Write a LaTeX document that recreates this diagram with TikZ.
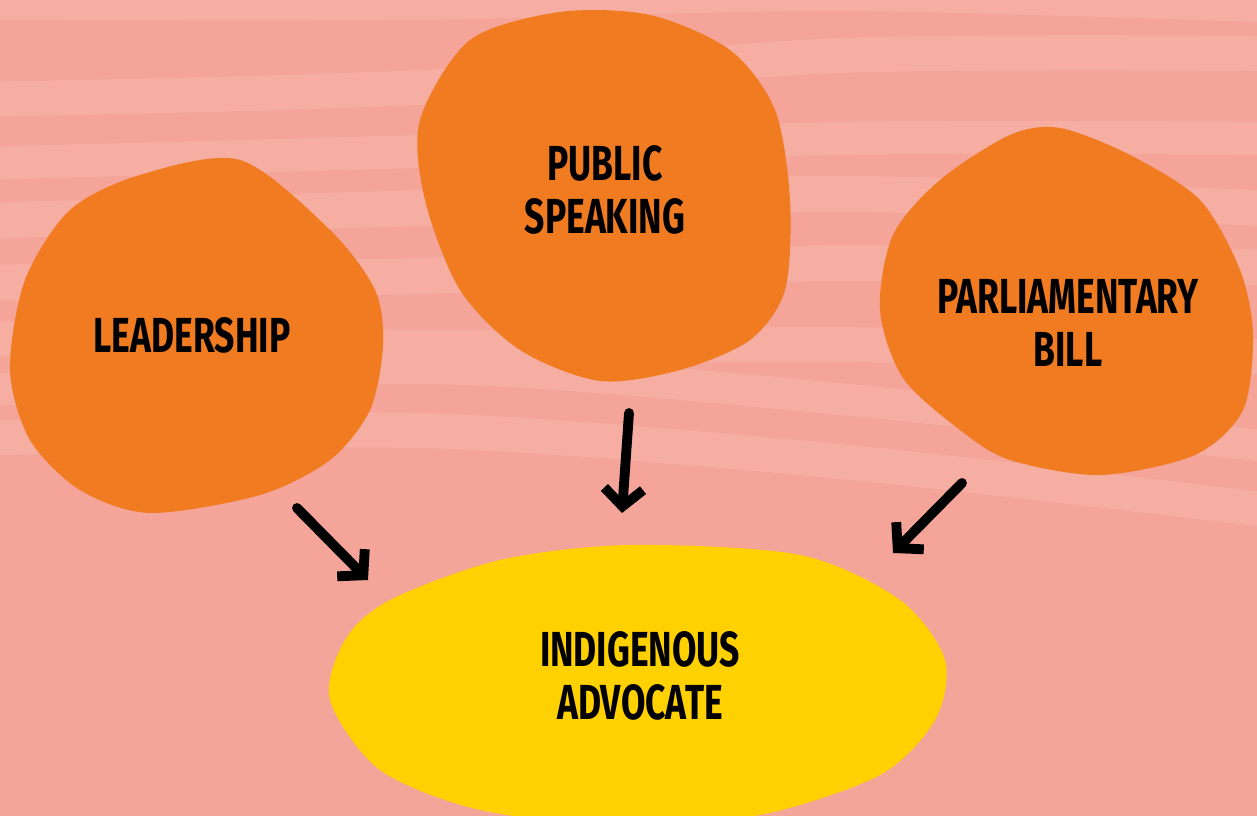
\documentclass[tikz,border=0pt]{standalone}
\usepackage{fontspec}
\setmainfont{Fira Sans}[FakeStretch=0.72]
\usetikzlibrary{arrows.meta}
\definecolor{bgdark}{HTML}{F4A498}
\definecolor{bglight}{HTML}{F6AEA2}
\definecolor{bloborange}{HTML}{F07B21}
\definecolor{advyellow}{HTML}{FFD100}
\begin{document}
\begin{tikzpicture}[x=0.01cm, y=-0.01cm, line join=round, line cap=round,
 blob/.style={fill=bloborange},
 label/.style={font=\fontsize{14}{15}\selectfont\bfseries, align=center, text=black},
 push/.style={line width=2.8pt, -{Straight Barb[length=5pt, width=11pt]}}]
 \useasboundingbox (0,0) rectangle (1257,816);
 \fill[bgdark] (0,0) rectangle (1257,816);
 \foreach \a/\b/\c/\d/\h in {-30/-30/-39/-27/50, 82/70/38/36/35, 147/135/122/122/33,
   203/190/176/191/36, 265/258/245/250/36, 321/330/327/340/35, 375/352/383/432/32,
   421/413/444/494/35}
  \fill[bglight] plot[smooth] coordinates {(-20,\a) (420,\b) (840,\c) (1280,\d)}
   -- plot[smooth] coordinates {(1280,\d+\h) (840,\c+\h) (420,\b+\h) (-20,\a+\h)} -- cycle;
 % blobs
 \fill[blob] plot[smooth cycle] coordinates {(140,175) (240,160) (330,230) (375,290) (383,345)
   (370,410) (330,460) (260,495) (150,513) (80,490) (30,440) (10,370) (25,280) (70,210)};
 \fill[blob] plot[smooth cycle] coordinates {(470,40) (560,12) (650,15) (730,50) (775,110)
   (790,200) (785,290) (750,340) (680,370) (600,381) (520,350) (460,290) (425,200) (420,120)};
 \fill[blob] plot[smooth cycle] coordinates {(1010,135) (1060,128) (1130,155) (1200,200)
   (1240,270) (1253,335) (1243,410) (1195,455) (1100,475) (1010,460) (960,430) (903,378)
   (880,310) (893,235) (940,180)};
 \fill[advyellow] plot[smooth cycle] coordinates {(390,600) (500,560) (630,545) (800,555)
   (900,600) (945,660) (935,720) (880,775) (760,815) (620,825) (480,810) (380,770) (330,700)
   (345,640)};
 % labels
 \node[label] (lead) at (192,335) {LEADERSHIP};
 \node[label] (speak) at (605,190) {PUBLIC\\SPEAKING};
 \node[label] (bill) at (1068,323) {PARLIAMENTARY\\BILL};
 \node[label] (adv) at (640,676) {INDIGENOUS\\ADVOCATE};
 % arrows
 \coordinate (lead-out) at (297,508);
 \coordinate (speak-out) at (629,413);
 \coordinate (bill-out) at (962,483);
 \coordinate (adv-in1) at (368,580);
 \coordinate (adv-in2) at (622,513);
 \coordinate (adv-in3) at (893,553);
 \draw[push] (lead-out) -- (adv-in1);
 \draw[push] (speak-out) -- (adv-in2);
 \draw[push] (bill-out) -- (adv-in3);
\end{tikzpicture}
\end{document}
